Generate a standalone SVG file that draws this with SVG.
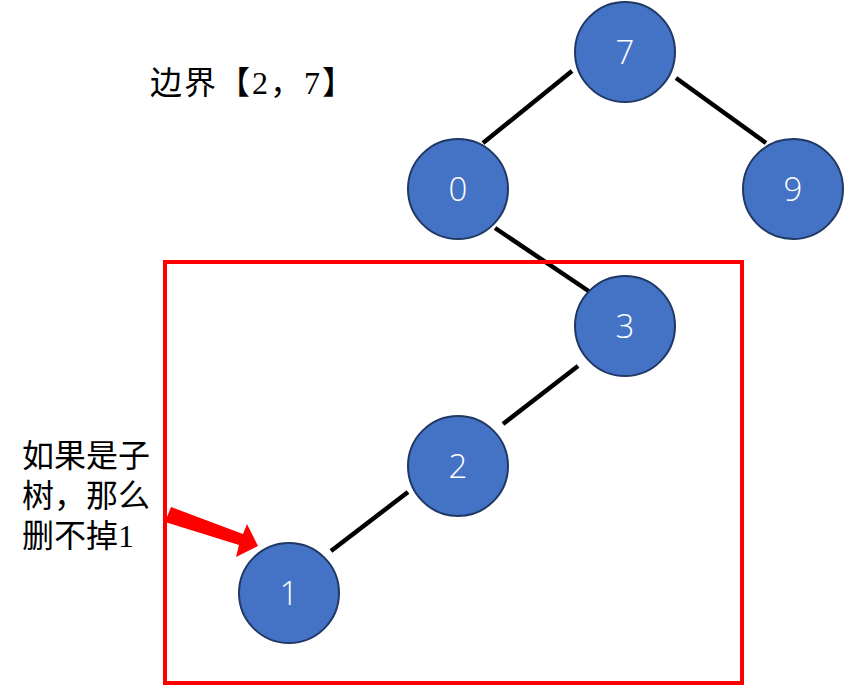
<svg xmlns="http://www.w3.org/2000/svg" width="845" height="685" viewBox="0 0 845 685">
<style>
.node circle{fill:#4472C4;stroke:#203864;stroke-width:2}
.node text{fill:#fff;font-family:"Open Sans","Liberation Sans",sans-serif;font-size:33px;font-weight:300;text-anchor:middle}
.edge{stroke:#000;stroke-width:4.5}
.lbl{font-family:"Liberation Serif","Noto Sans CJK SC",serif;font-size:32px;fill:#000}
</style>
<rect width="845" height="685" fill="#fff"/>
<g id="connectors">
<line class="edge" x1="572" y1="71" x2="483" y2="143"/>
<line class="edge" x1="676" y1="78" x2="766" y2="143"/>
<line class="edge" x1="495" y1="228" x2="590" y2="292"/>
<line class="edge" x1="578" y1="366" x2="503" y2="424"/>
<line class="edge" x1="408" y1="492" x2="331" y2="551"/>
</g>
<rect id="box" x="165" y="262" width="577" height="421" fill="none" stroke="#FF0000" stroke-width="4"/>
<g id="n7" class="node"><circle cx="625" cy="52" r="50"/><text x="625" y="64">7</text></g>
<g id="n0" class="node"><circle cx="458" cy="189" r="50"/><text x="458" y="201">0</text></g>
<g id="n9" class="node"><circle cx="793" cy="189" r="50"/><text x="793" y="201">9</text></g>
<g id="n3" class="node"><circle cx="625" cy="326" r="50"/><text x="625" y="338">3</text></g>
<g id="n2" class="node"><circle cx="458" cy="466" r="50"/><text x="458" y="478">2</text></g>
<g id="n1" class="node"><circle cx="289" cy="593" r="50"/><text x="289" y="605">1</text></g>
<polygon id="arrow" fill="#FF0000" points="165,522 171,507 243,534 247,524 258,546 236,557 239,545"/>
<text class="lbl" x="150" y="94" letter-spacing="2">边界【2，7】</text>
<text class="lbl" x="22" y="467">如果是子</text>
<text class="lbl" x="22" y="507">树，那么</text>
<text class="lbl" x="22" y="547">删不掉1</text>
</svg>
